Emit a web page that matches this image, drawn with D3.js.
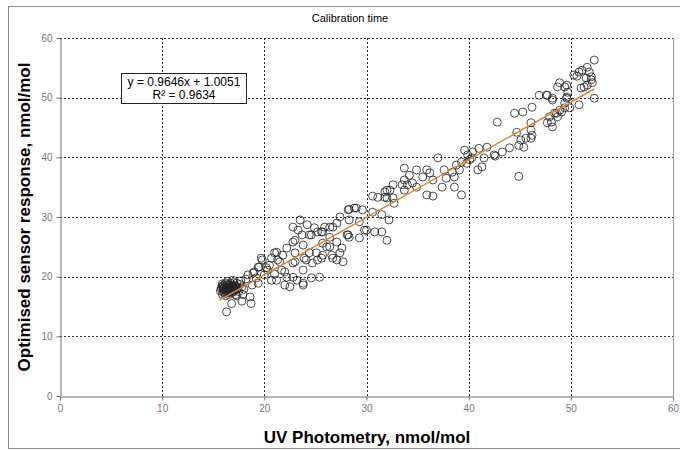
<!DOCTYPE html>
<html><head><meta charset="utf-8">
<script src="https://cdn.jsdelivr.net/npm/d3@7"></script>
<style>body{margin:0;background:#fff;}svg{display:block;font-family:Arial,"Liberation Sans",sans-serif;}</style>
</head><body><svg id="c" width="680" height="450"></svg>
<script>
const chartTitle = "Calibration time";
const xTitle = "UV Photometry, nmol/mol";
const yTitle = "Optimised sensor response, nmol/mol";
const xTicks = [0,10,20,30,40,50,60];
const yTicks = [0,10,20,30,40,50,60];
const slope = 0.9646, intercept = 1.0051, rSquared = 0.9634;
const fitRange = [15.6, 52.3];

// UV photometry values (x) and sensor response (y)
const uvPhotometry = [
15.7,15.8,15.9,16.0,16.0,16.1,16.2,16.2,16.3,16.4,16.4,16.5,16.6,16.6,16.7,16.8,16.9,16.9,17.0,17.1,17.2,17.3,17.4,17.5,16.1,16.3,16.5,16.7,15.9,16.8,17.0,17.6,17.8,18.0,17.7,
15.8,15.9,16.0,16.1,16.2,16.3,16.4,16.5,16.6,16.7,16.8,16.9,17.0,17.1,17.2,17.3,16.0,16.2,16.4,16.6,16.8,17.0,17.2,16.5,
16.3,16.8,17.8,17.9,18.6,18.7,17.3,
18.4,18.8,19.0,19.4,19.5,19.8,20.0,20.2,20.7,20.7,21.2,21.5,22.0,22.2,22.8,23.0,23.0,22.8,18.2,19.2,20.5,21.0,
23.5,24.2,24.6,23.3,22.8,25.2,25.7,26.4,27.1,27.4,28.3,28.8,29.6,30.6,31.1,29.8,29.3,28.1,28.3,27.1,27.6,27.1,26.1,26.6,25.6,25.1,24.7,24.1,23.8,24.6,25.4,23.8,23.2,22.2,21.7,21.3,21.8,21.0,19.7,19.4,18.9,20.3,21.2,22.0,22.5,22.8,23.8,
23.0,23.8,23.7,24.4,24.9,25.9,26.7,28.2,29.0,28.3,29.3,28.2,30.0,30.8,31.5,31.8,32.0,30.6,25.6,25.7,26.4,27.4,26.7,27.7,25.7,24.4,25.2,23.9,26.4,31.5,32.2,32.0,
39.6,39.9,40.1,39.8,39.3,38.8,39.1,38.4,38.6,37.6,37.8,37.4,38.6,37.0,35.9,36.2,35.5,36.5,34.9,34.9,35.9,36.5,39.3,40.9,34.2,33.7,33.7,33.5,34.0,33.7,32.6,32.3,31.8,32.0,32.6,32.7,34.5,
40.4,40.3,41.3,41.5,41.8,42.5,43.3,44.0,44.9,45.4,45.1,45.6,46.1,46.2,46.1,46.1,44.7,42.8,44.5,45.3,46.2,46.9,47.7,48.2,44.9,42.6,41.0,
48.9,49.6,49.6,49.4,48.9,48.4,48.7,47.9,48.1,48.2,47.7,
52.3,51.6,51.8,51.1,50.8,52.0,51.5,52.0,52.1,51.6,51.3,51.0,52.3,50.8,49.9,49.4,48.7,49.7,49.6,49.4,49.1,48.6,48.2,47.6,50.3,50.6
];
const sensorResponse = [
17.6,18.2,17.0,18.6,17.9,17.3,18.9,16.8,18.1,17.6,19.2,17.0,18.4,17.8,18.9,17.3,18.1,19.4,17.7,18.5,17.0,18.9,18.1,17.5,18.0,17.3,18.7,17.5,18.8,18.6,19.0,18.7,18.3,17.9,19.3,
17.9,18.4,17.4,18.3,17.7,18.6,18.0,17.4,18.0,18.2,17.7,18.4,18.2,17.8,18.4,17.9,18.1,17.9,18.2,17.6,18.0,17.5,18.3,17.9,
14.1,15.5,15.9,17.0,16.6,15.5,16.8,
20.3,18.6,20.8,18.9,21.6,22.8,20.3,21.5,23.1,19.4,24.1,22.5,20.8,24.8,19.9,22.5,26.1,28.3,19.6,19.8,21.9,20.4,
29.5,28.7,27.0,27.8,25.8,27.5,27.5,28.3,29.0,30.0,31.3,31.5,31.2,33.5,33.3,27.8,26.5,27.0,26.6,25.8,24.8,22.8,25.0,23.6,23.1,24.0,22.3,22.8,21.1,19.8,19.9,18.9,19.4,19.9,21.1,22.8,23.6,24.0,23.1,21.6,20.6,21.1,19.4,18.6,18.3,22.3,18.6,
24.0,25.3,27.0,27.0,28.2,28.3,28.3,31.2,31.5,29.5,29.2,27.0,27.8,27.5,27.5,33.3,34.5,30.8,27.5,25.6,25.0,24.0,23.1,22.5,23.6,24.0,22.8,23.1,26.6,30.4,29.5,26.1,
41.2,40.4,39.6,39.0,39.2,38.7,37.9,37.5,36.7,37.9,36.5,35.0,35.0,39.9,37.9,37.4,36.7,36.2,37.9,35.0,33.7,33.5,33.7,37.9,37.0,38.2,36.2,35.4,35.4,34.5,35.4,34.5,34.2,33.2,33.2,32.3,35.7,
40.9,39.9,38.4,39.9,41.7,40.4,40.9,41.6,42.0,41.7,42.9,43.2,43.2,43.7,44.6,45.8,44.2,45.9,47.4,47.6,48.4,50.4,50.4,49.6,36.8,40.2,41.5,
52.5,52.1,50.1,49.1,47.9,47.4,46.8,46.8,45.9,45.1,45.8,
56.3,55.1,54.3,54.6,54.3,53.5,53.3,53.0,52.5,52.1,51.8,51.6,49.9,48.8,48.3,51.8,51.8,50.9,49.9,48.3,47.6,47.4,49.9,50.4,53.8,53.6
];

const svg = d3.select("#c");
const x = d3.scaleLinear().domain([0,60]).range([60,673]);
const y = d3.scaleLinear().domain([0,60]).range([396,38]);

// outer border
svg.append("rect").attr("x",8.5).attr("y",6.5).attr("width",672).attr("height",442)
  .attr("fill","#fff").attr("stroke","#8c8c8c").attr("stroke-width",1);

// gridlines
const grid = svg.append("g");
grid.selectAll("line.h").data(yTicks.filter(d=>d>0)).join("line")
  .attr("x1",x(0)).attr("x2",x(60)).attr("y1",d=>Math.round(y(d))+0.5).attr("y2",d=>Math.round(y(d))+0.5)
  .attr("stroke","#333").attr("stroke-width",1).attr("stroke-dasharray","2,2");
grid.selectAll("line.v").data(xTicks.filter(d=>d>0 && d<60)).join("line")
  .attr("y1",y(0)).attr("y2",y(60)).attr("x1",d=>Math.round(x(d))+0.5).attr("x2",d=>Math.round(x(d))+0.5)
  .attr("stroke","#333").attr("stroke-width",1).attr("stroke-dasharray","2,2");
// right border of plot
svg.append("line").attr("x1",Math.round(x(60))+0.5).attr("x2",Math.round(x(60))+0.5)
  .attr("y1",y(60)).attr("y2",y(0)).attr("stroke","#999");

// axes
const yAxis = svg.append("g").attr("transform",`translate(${Math.round(x(0))+0.5},0)`)
  .call(d3.axisLeft(y).tickValues(yTicks).tickSize(4).tickSizeOuter(0).tickPadding(4));
const xAxis = svg.append("g").attr("transform",`translate(0,${Math.round(y(0))+0.5})`)
  .call(d3.axisBottom(x).tickValues(xTicks).tickSize(4).tickSizeOuter(0).tickPadding(4));
[yAxis,xAxis].forEach(a=>{
  a.select(".domain").attr("stroke","#707070");
  a.selectAll(".tick line").attr("stroke","#707070");
  a.selectAll(".tick text").attr("fill","#777").attr("font-size",10).attr("font-family","Arial, 'Liberation Sans', sans-serif");
});

// points
svg.append("g").selectAll("circle").data(uvPhotometry.map((v,i)=>[v,sensorResponse[i]])).join("circle")
  .attr("cx",d=>x(d[0])).attr("cy",d=>y(d[1])).attr("r",4)
  .attr("fill","none").attr("stroke","#222").attr("stroke-width",0.8);

// trend line
svg.append("line")
  .attr("x1",x(fitRange[0])).attr("y1",y(slope*fitRange[0]+intercept))
  .attr("x2",x(fitRange[1])).attr("y2",y(slope*fitRange[1]+intercept))
  .attr("stroke","#d4893a").attr("stroke-width",1.5);

// equation box
const eq = svg.append("g");
eq.append("rect").attr("x",121.5).attr("y",73.5).attr("width",125).attr("height",30)
  .attr("fill","#fff").attr("stroke","#222").attr("stroke-width",1);
eq.append("text").attr("x",184).attr("y",86).attr("text-anchor","middle").attr("font-size",12)
  .text(`y = ${slope}x + ${intercept}`);
eq.append("text").attr("x",184).attr("y",99).attr("text-anchor","middle").attr("font-size",12)
  .text(`R² = ${rSquared}`);

// titles
svg.append("text").attr("x",350).attr("y",22).attr("text-anchor","middle").attr("font-size",11).text(chartTitle);
svg.append("text").attr("x",367).attr("y",443).attr("text-anchor","middle").attr("font-size",17).attr("font-weight","bold").text(xTitle);
svg.append("text").attr("transform","translate(30,217) rotate(-90)").attr("text-anchor","middle").attr("font-size",17).attr("font-weight","bold").text(yTitle);
</script></body></html>
